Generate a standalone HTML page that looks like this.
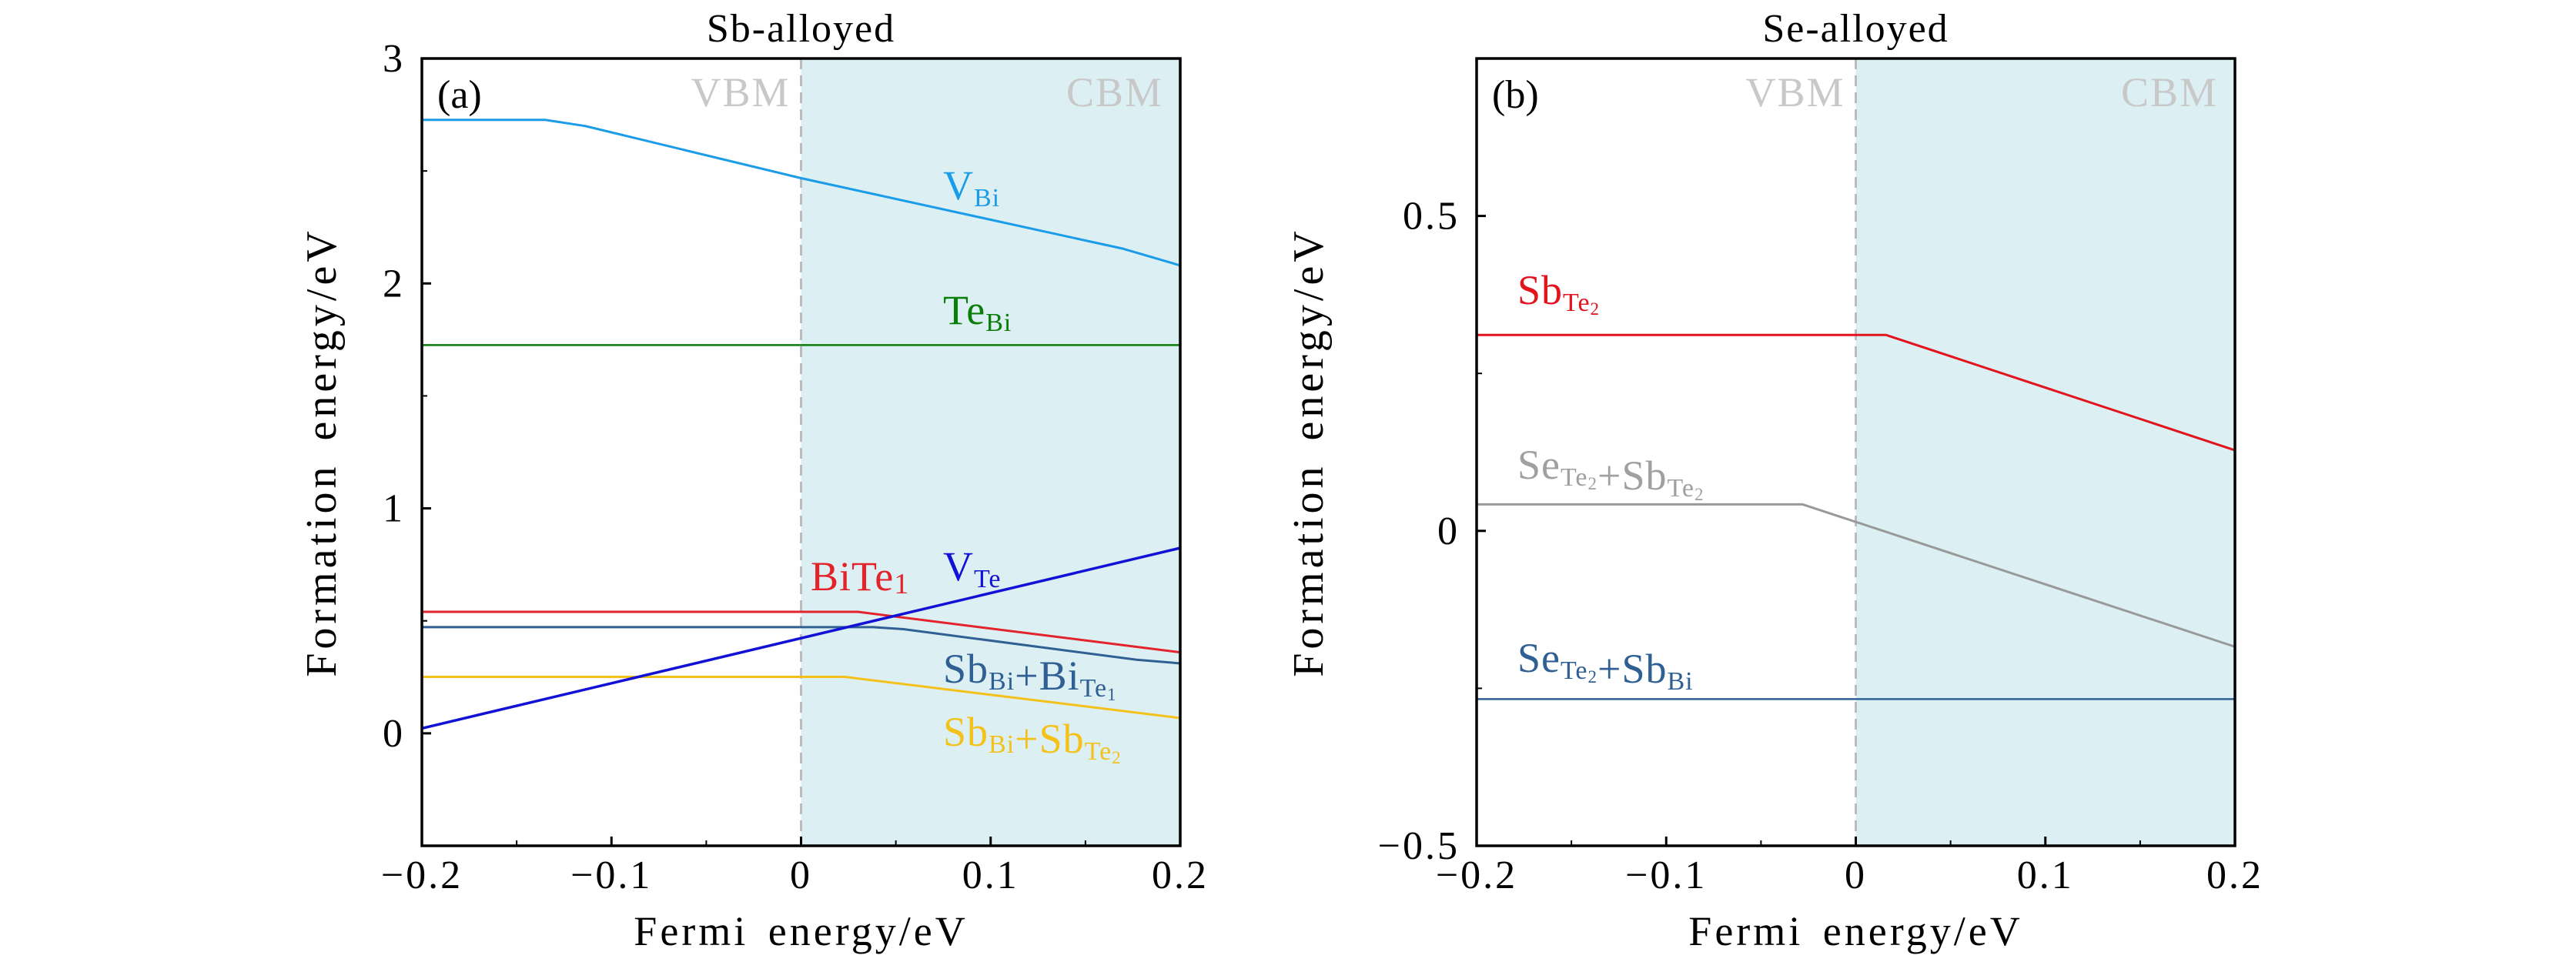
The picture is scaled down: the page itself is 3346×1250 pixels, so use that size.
<!DOCTYPE html>
<html><head><meta charset="utf-8"><style>
html,body{margin:0;padding:0;background:#fff}
svg{display:block}
text{font-family:"Liberation Serif",serif}
</style></head><body>
<svg id="chart" width="3346" height="1250"></svg>
<script>
// Panel (a) Sb-alloyed data
const aVBiX=[-0.2,-0.135,-0.114,0,0.17,0.2];
const aVBiY=[2.727,2.727,2.70,2.468,2.154,2.08];
const aTeBiX=[-0.2,0.2];
const aTeBiY=[1.726,1.726];
const aVTeX=[-0.2,0.2];
const aVTeY=[0.022,0.824];
const aBiTeX=[-0.2,0.03,0.2];
const aBiTeY=[0.54,0.54,0.36];
const aSbBiBiTeX=[-0.2,0.038,0.054,0.177,0.2];
const aSbBiBiTeY=[0.472,0.472,0.463,0.327,0.311];
const aSbSbX=[-0.2,0.023,0.2];
const aSbSbY=[0.251,0.251,0.068];
// Panel (b) Se-alloyed data
const bSbTeX=[-0.2,0.016,0.2];
const bSbTeY=[0.311,0.311,0.128];
const bSeSbTeX=[-0.2,-0.028,0.2];
const bSeSbTeY=[0.042,0.042,-0.184];
const bSeSbBiX=[-0.2,0.2];
const bSeSbBiY=[-0.267,-0.267];
const xTicks=[-0.2,-0.1,0,0.1,0.2];
const xTickLabels=["\u22120.2","\u22120.1","0","0.1","0.2"];
const aYTicks=[0,1,2,3];
const aYTickLabels=["0","1","2","3"];
const bYTicks=[-0.5,0,0.5];
const bYTickLabels=["\u22120.5","0","0.5"];

const NS="http://www.w3.org/2000/svg";
const svg=document.getElementById('chart');
function el(tag,attrs,parent){const e=document.createElementNS(NS,tag);for(const k in attrs)e.setAttribute(k,attrs[k]);(parent||svg).appendChild(e);return e;}

function panel(cfg){
  const g=el('g',{});
  
  
  const L=cfg.left,R=cfg.left+985,T=76,B=1099;
  const sx=v=>L+(v+0.2)/0.4*(R-L);
  const sy=v=>B-(v-cfg.ymin)/(cfg.ymax-cfg.ymin)*(B-T);
  const shade=el('rect',{x:sx(0),y:T,width:R-sx(0),height:B-T,fill:'#dcf0f4'},g);
  
  
  const dl=el('line',{x1:sx(0),y1:T,x2:sx(0),y2:B,stroke:'#bcbcbc','stroke-width':3,'stroke-dasharray':'14,8'},g);
  
  
  cfg.series.forEach(s=>{
    const pts=s.x.map((v,i)=>sx(v)+','+sy(s.y[i])).join(' ');
    const p=el('polyline',{points:pts,fill:'none',stroke:s.color,'stroke-width':s.w||3,'stroke-linejoin':'round'},g);
    
    
  });
  xTicks.forEach((v,i)=>{
    const t=el('line',{x1:sx(v),y1:B,x2:sx(v),y2:B-12,stroke:'#000','stroke-width':3},g);
    
    
    const lb=el('text',{x:sx(v),y:1154,'font-size':52,'letter-spacing':3,'text-anchor':'middle'},g);
    lb.textContent=xTickLabels[i];
    
    
    if(i<xTicks.length-1){
      const m=el('line',{x1:sx(v+0.05),y1:B,x2:sx(v+0.05),y2:B-7,stroke:'#000','stroke-width':2},g);
      
      
    }
  });
  cfg.yTicks.forEach((v,i)=>{
    const t=el('line',{x1:L,y1:sy(v),x2:L+12,y2:sy(v),stroke:'#000','stroke-width':3},g);
    
    
    const lb=el('text',{x:L-22,y:sy(v)+17,'font-size':52,'letter-spacing':3,'text-anchor':'end'},g);
    lb.textContent=cfg.yLabels[i];
    
    
  });
  cfg.yMinor.forEach(v=>{
    const m=el('line',{x1:L,y1:sy(v),x2:L+7,y2:sy(v),stroke:'#000','stroke-width':2},g);
    
    
  });
  const fr=el('rect',{x:L,y:T,width:R-L,height:B-T,fill:'none',stroke:'#000','stroke-width':3.5},g);
  
  
  const ti=el('text',{x:(L+R)/2,y:54,'font-size':52,'letter-spacing':2,'text-anchor':'middle'},g);
  ti.textContent=cfg.title;
  
  
  const xt=el('text',{x:(L+R)/2,y:1228,'font-size':54,'letter-spacing':4,'word-spacing':8,'text-anchor':'middle'},g);
  xt.textContent='Fermi energy/eV';
  
  
  const yt=el('text',{x:0,y:0,'font-size':56,'letter-spacing':5,'word-spacing':10,'text-anchor':'middle',transform:`translate(${cfg.yTitleX},${(T+B)/2}) rotate(-90)`},g);
  yt.textContent='Formation energy/eV';
  
  
  const pl=el('text',{x:L+20,y:140,'font-size':52},g);
  pl.textContent=cfg.tag;
  
  
  const vb=el('text',{x:sx(0)-14,y:138,'font-size':54,'letter-spacing':2,'text-anchor':'end',fill:'#c8c8c8'},g);
  vb.textContent='VBM';
  
  
  const cb=el('text',{x:R-22,y:138,'font-size':54,'letter-spacing':2,'text-anchor':'end',fill:'#c8c8c8'},g);
  cb.textContent='CBM';
  
  
  cfg.labels.forEach(lab=>{
    const t=el('text',{x:lab.x,y:lab.y,'font-size':54,'letter-spacing':1,fill:lab.color},g);
    t.innerHTML=lab.html;
    
    
  });
}
const sub=(s)=>`<tspan font-size="34" dy="9">${s}</tspan><tspan dy="-9"></tspan>`;
const sub2=(a,b)=>`<tspan font-size="34" dy="9">${a}</tspan><tspan font-size="23" dy="5">${b}</tspan><tspan dy="-14"></tspan>`;

panel({name:'panel-a-sb-alloyed',left:548,ymin:-0.5,ymax:3,title:'Sb-alloyed',tag:'(a)',yTitleX:436,
  yTicks:aYTicks,yLabels:aYTickLabels,yMinor:[0.5,1.5,2.5],
  series:[
    {name:'line-v-bi',x:aVBiX,y:aVBiY,color:'#1b9ce8'},
    {name:'line-te-bi',x:aTeBiX,y:aTeBiY,color:'#0a7d0a',w:2.5},
    {name:'line-bi-te1',x:aBiTeX,y:aBiTeY,color:'#e2232b'},
    {name:'line-sbbi-bite1',x:aSbBiBiTeX,y:aSbBiBiTeY,color:'#2f5f93'},
    {name:'line-sbbi-sbte2',x:aSbSbX,y:aSbSbY,color:'#f4c01a'},
    {name:'line-v-te',x:aVTeX,y:aVTeY,color:'#1212d6',w:3.5}
  ],
  labels:[
    {name:'label-v-bi',x:1225,y:259,color:'#1b9ce8',html:'V'+sub('Bi')},
    {name:'label-te-bi',x:1225,y:421,color:'#0a7d0a',html:'Te'+sub('Bi')},
    {name:'label-bi-te1',x:1053,y:767,color:'#e2232b',html:'BiTe<tspan font-size="38" dy="4">1</tspan>'},
    {name:'label-v-te',x:1225,y:754,color:'#1212d6',html:'V'+sub('Te')},
    {name:'label-sbbi-bite1',x:1225,y:887,color:'#2f5f93',html:'Sb'+sub('Bi')+'+Bi'+sub2('Te','1')},
    {name:'label-sbbi-sbte2',x:1225,y:969,color:'#f4c01a',html:'Sb'+sub('Bi')+'+Sb'+sub2('Te','2')}
  ]});
panel({name:'panel-b-se-alloyed',left:1918,ymin:-0.5,ymax:0.75,title:'Se-alloyed',tag:'(b)',yTitleX:1718,
  yTicks:bYTicks,yLabels:bYTickLabels,yMinor:[-0.25,0.25],
  series:[
    {name:'line-sb-te2',x:bSbTeX,y:bSbTeY,color:'#e2141e'},
    {name:'line-sete2-sbte2',x:bSeSbTeX,y:bSeSbTeY,color:'#999999'},
    {name:'line-sete2-sbbi',x:bSeSbBiX,y:bSeSbBiY,color:'#2f5f93',w:2.5}
  ],
  labels:[
    {name:'label-sb-te2',x:1971,y:395,color:'#e2141e',html:'Sb'+sub2('Te','2')},
    {name:'label-sete2-sbte2',x:1971,y:622,color:'#a0a0a0',html:'Se'+sub2('Te','2')+'+Sb'+sub2('Te','2')},
    {name:'label-sete2-sbbi',x:1971,y:873,color:'#2f5f93',html:'Se'+sub2('Te','2')+'+Sb'+sub('Bi')}
  ]});
</script>
</body></html>
